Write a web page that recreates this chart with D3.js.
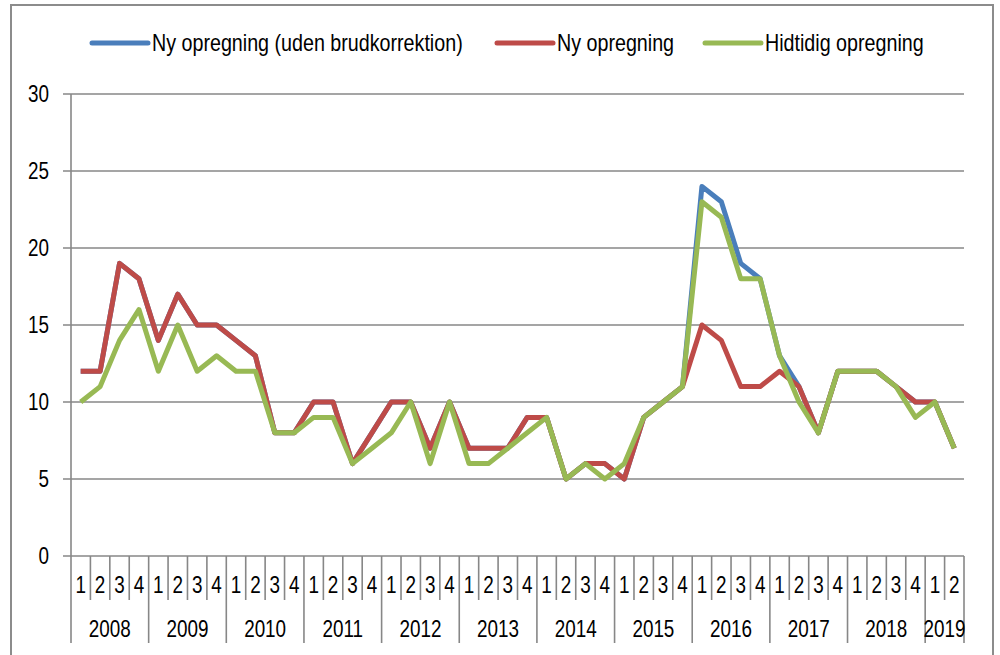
<!DOCTYPE html>
<html>
<head>
<meta charset="utf-8">
<script src="https://cdn.jsdelivr.net/npm/d3@7"></script>
<style>
  body { margin: 0; background: #fff; }
  text { font-family: "Liberation Sans Narrow", "Arial Narrow", "Liberation Sans", sans-serif; fill: #000; }
</style>
</head>
<body>
<div id="viz"></div>
<script>
// år og antal kvartaler pr. år (2019 kun to kvartaler)
const years = [2008, 2009, 2010, 2011, 2012, 2013, 2014, 2015, 2016, 2017, 2018, 2019];
const quartersPerYear = [4, 4, 4, 4, 4, 4, 4, 4, 4, 4, 4, 2];
const quarterLabels = ['1', '2', '3', '4'];
const yTicks = [0, 5, 10, 15, 20, 25, 30];

const seriesNames = ['Ny opregning (uden brudkorrektion)', 'Ny opregning', 'Hidtidig opregning'];
const seriesColors = ['#4a7ebb', '#be4b48', '#98b954'];

const nyUdenBrud = [
  12, 12, 19, 18,  14, 17, 15, 15,  14, 13, 8, 8,  10, 10, 6, 8,
  10, 10, 7, 10,   7, 7, 7, 9,      9, 5, 6, 6,    5, 9, 10, 11,
  24, 23, 19, 18,  13, 11, 8, 12,   12, 12, 11, 10, 10, 7
];
const nyOpregning = [
  12, 12, 19, 18,  14, 17, 15, 15,  14, 13, 8, 8,  10, 10, 6, 8,
  10, 10, 7, 10,   7, 7, 7, 9,      9, 5, 6, 6,    5, 9, 10, 11,
  15, 14, 11, 11,  12, 11, 8, 12,   12, 12, 11, 10, 10, 7
];
const hidtidig = [
  10, 11, 14, 16,  12, 15, 12, 13,  12, 12, 8, 8,  9, 9, 6, 7,
  8, 10, 6, 10,    6, 6, 7, 8,      9, 5, 6, 5,    6, 9, 10, 11,
  23, 22, 18, 18,  13, 10, 8, 12,   12, 12, 11, 9,  10, 7
];

// kategorier: "2008-1", "2008-2", ...
const categories = [];
years.forEach((yr, i) => {
  quarterLabels.slice(0, quartersPerYear[i]).forEach(q => categories.push(yr + '-' + q));
});

const W = 1000, H = 655;
const plotLeft = 71, plotRight = 964, plotTop = 94, plotBottom = 556;
const gridColor = '#878787';

const svg = d3.select('#viz').append('svg')
  .attr('width', W).attr('height', H);

// ramme
svg.append('rect')
  .attr('x', 11).attr('y', 5).attr('width', 982).attr('height', 700)
  .attr('fill', 'none').attr('stroke', '#8c8c8c').attr('stroke-width', 2);

const x = d3.scaleBand().domain(categories).range([plotLeft, plotRight]).padding(0);
const y = d3.scaleLinear().domain([0, 30]).range([plotBottom, plotTop]);
const cx = d => x(d) + x.bandwidth() / 2;

// gitterlinjer og y-etiketter
const yAxis = svg.append('g');
yAxis.selectAll('line').data(yTicks).join('line')
  .attr('x1', plotLeft - 8).attr('x2', plotRight)
  .attr('y1', d => y(d)).attr('y2', d => y(d))
  .attr('stroke', gridColor).attr('stroke-width', 1.6);
yAxis.selectAll('text').data(yTicks).join('text')
  .attr('x', 49).attr('y', d => y(d) + 8)
  .attr('text-anchor', 'end').attr('font-size', 23)
  .text(d => d);

// y-akse
svg.append('line')
  .attr('x1', plotLeft).attr('x2', plotLeft).attr('y1', plotTop).attr('y2', 643)
  .attr('stroke', gridColor).attr('stroke-width', 1.6);

// kvartalsskel (højre kant af hvert kvartal)
const qAxis = svg.append('g');
qAxis.selectAll('line').data(categories).join('line')
  .attr('x1', d => x(d) + x.bandwidth()).attr('x2', d => x(d) + x.bandwidth())
  .attr('y1', plotBottom).attr('y2', 600)
  .attr('stroke', gridColor).attr('stroke-width', 1.6);
qAxis.selectAll('text').data(categories).join('text')
  .attr('x', d => cx(d)).attr('y', 593)
  .attr('text-anchor', 'middle').attr('font-size', 23)
  .text(d => d.split('-')[1]);

// årsskel og år-etiketter
const yearStart = years.map(yr => categories.find(c => c.startsWith(yr + '-')));
const yearEnd = years.map(yr => categories.filter(c => c.startsWith(yr + '-')).pop());
const yearAxis = svg.append('g');
yearAxis.selectAll('line').data(years).join('line')
  .attr('x1', (d, i) => x(yearEnd[i]) + x.bandwidth())
  .attr('x2', (d, i) => x(yearEnd[i]) + x.bandwidth())
  .attr('y1', 600).attr('y2', 643)
  .attr('stroke', gridColor).attr('stroke-width', 1.6);
yearAxis.selectAll('text').data(years).join('text')
  .attr('x', (d, i) => (x(yearStart[i]) + x(yearEnd[i]) + x.bandwidth()) / 2)
  .attr('y', 637)
  .attr('text-anchor', 'middle').attr('font-size', 23)
  .text(d => d);

// linjer
const line = d3.line()
  .x((d, i) => cx(categories[i]))
  .y(d => y(d));
[nyUdenBrud, nyOpregning, hidtidig].forEach((s, k) => {
  svg.append('path')
    .datum(s)
    .attr('d', line)
    .attr('fill', 'none')
    .attr('stroke', seriesColors[k])
    .attr('stroke-width', 5)
    .attr('stroke-linejoin', 'round');
});

// forklaring
const legendX = [92, 497, 705];
const legend = svg.append('g');
seriesNames.forEach((name, k) => {
  legend.append('line')
    .attr('x1', legendX[k]).attr('x2', legendX[k] + 56)
    .attr('y1', 43).attr('y2', 43)
    .attr('stroke', seriesColors[k]).attr('stroke-width', 5)
    .attr('stroke-linecap', 'round');
  legend.append('text')
    .attr('x', legendX[k] + 60).attr('y', 51)
    .attr('font-size', 24)
    .text(name);
});

// smal skrift findes ikke -> klem teksten vandret
svg.selectAll('text').each(function () {
  const w = this.getComputedTextLength();
  d3.select(this).attr('textLength', w * 0.82).attr('lengthAdjust', 'spacingAndGlyphs');
});
</script>
</body>
</html>
